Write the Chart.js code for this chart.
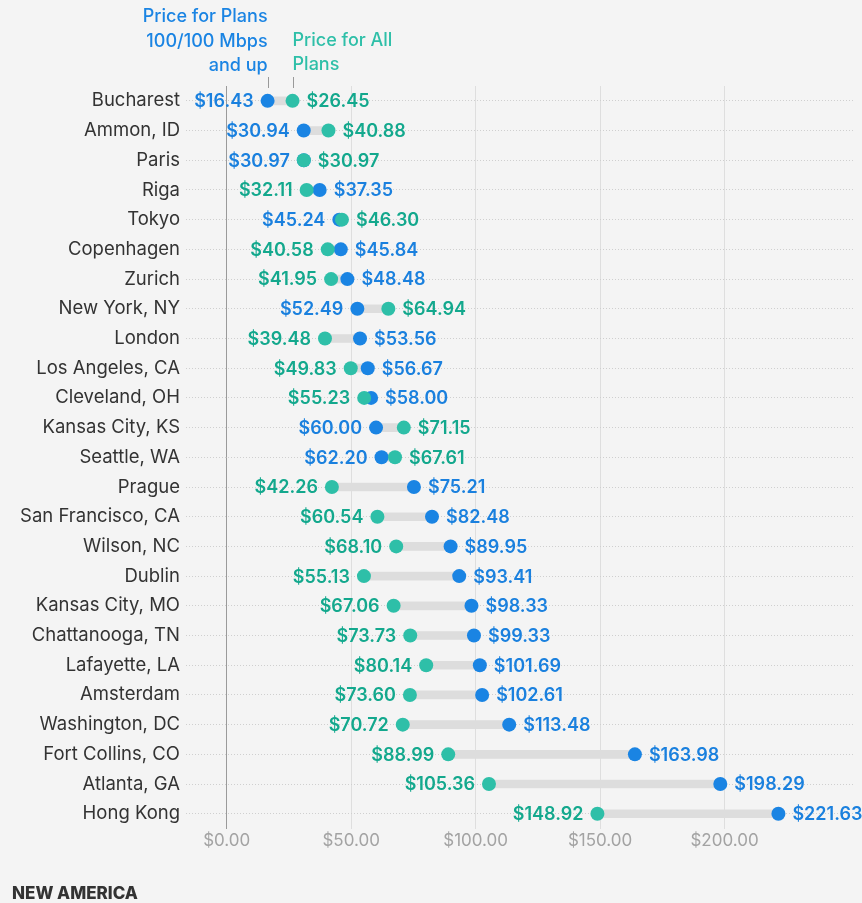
<!DOCTYPE html>
<html>
<head>
<meta charset="utf-8">
<script src="https://cdn.jsdelivr.net/npm/chart.js@4"></script>
<style>
  body { margin: 0; background: #f4f4f4; }
  #wrap { position: relative; width: 862px; height: 903px; }
  #brand { position: absolute; left: 12px; top: 883px; font: 800 17px Inter, sans-serif; color: #333; }
</style>
</head>
<body>
<div id="wrap">
  <canvas id="chartJS"></canvas>
  <div id="brand">NEW AMERICA</div>
</div>
<script>
// cities, top to bottom
const cidades = ['Bucharest', 'Ammon, ID', 'Paris', 'Riga', 'Tokyo', 'Copenhagen', 'Zurich',
    'New York, NY', 'London', 'Los Angeles, CA', 'Cleveland, OH', 'Kansas City, KS',
    'Seattle, WA', 'Prague', 'San Francisco, CA', 'Wilson, NC', 'Dublin', 'Kansas City, MO',
    'Chattanooga, TN', 'Lafayette, LA', 'Amsterdam', 'Washington, DC', 'Fort Collins, CO',
    'Atlanta, GA', 'Hong Kong']

// price for plans 100/100 Mbps and up
const preco100 = [16.43, 30.94, 30.97, 37.35, 45.24, 45.84, 48.48, 52.49, 53.56, 56.67, 58.00,
    60.00, 62.20, 75.21, 82.48, 89.95, 93.41, 98.33, 99.33, 101.69, 102.61, 113.48, 163.98,
    198.29, 221.63]

// price for all plans
const precoTodos = [26.45, 40.88, 30.97, 32.11, 46.30, 40.58, 41.95, 64.94, 39.48, 49.83, 55.23,
    71.15, 67.61, 42.26, 60.54, 68.10, 55.13, 67.06, 73.73, 80.14, 73.60, 70.72, 88.99,
    105.36, 148.92]

const ticksX = [0, 50, 100, 150, 200]

const AZUL = '#1a84e3'
const AZUL_TXT = '#1a80de'
const VERDE = '#2ebfa8'
const VERDE_TXT = '#13a88d'

const faixas = cidades.map((c, i) => [Math.min(preco100[i], precoTodos[i]), Math.max(preco100[i], precoTodos[i])])

const rotulos = {
    id: 'rotulos',
    afterDatasetsDraw(chart) {
        const ctx = chart.ctx
        const mAzul = chart.getDatasetMeta(1)
        const mVerde = chart.getDatasetMeta(2)
        ctx.save()
        ctx.font = '600 18px Inter'
        ctx.textBaseline = 'middle'
        cidades.forEach((c, i) => {
            const pa = mAzul.data[i]
            const pv = mVerde.data[i]
            const azulEsq = preco100[i] <= precoTodos[i]
            ctx.fillStyle = AZUL_TXT
            ctx.textAlign = azulEsq ? 'right' : 'left'
            ctx.fillText('$' + preco100[i].toFixed(2), azulEsq ? pa.x - 14 : pa.x + 14, pa.y + 1)
            ctx.fillStyle = VERDE_TXT
            ctx.textAlign = azulEsq ? 'left' : 'right'
            ctx.fillText('$' + precoTodos[i].toFixed(2), azulEsq ? pv.x + 14 : pv.x - 14, pv.y + 1)
        })

        // header legend over the first row
        const xa = mAzul.data[0].x
        const xv = mVerde.data[0].x
        ctx.font = '500 18px Inter'
        ctx.textBaseline = 'middle'
        ctx.fillStyle = AZUL
        ctx.textAlign = 'right'
        ctx.fillText('Price for Plans', xa, 17)
        ctx.fillText('100/100 Mbps', xa, 42)
        ctx.fillText('and up', xa, 66)
        ctx.fillStyle = VERDE
        ctx.textAlign = 'left'
        ctx.fillText('Price for All', xv, 41)
        ctx.fillText('Plans', xv, 65)
        ctx.strokeStyle = '#999'
        ctx.lineWidth = 1
        ctx.beginPath()
        ctx.moveTo(Math.round(xa) + 0.5, 77)
        ctx.lineTo(Math.round(xa) + 0.5, 88)
        ctx.moveTo(Math.round(xv) + 0.5, 77)
        ctx.lineTo(Math.round(xv) + 0.5, 88)
        ctx.stroke()
        ctx.restore()
    }
}

const meuchart = document.getElementById('chartJS')

const data = {
    labels: cidades,
    datasets: [
        {
            type: 'bar',
            data: faixas,
            backgroundColor: '#dddddd',
            barThickness: 8,
            borderSkipped: false,
            order: 3,
        },
        {
            type: 'line',
            data: preco100,
            showLine: false,
            pointRadius: 7,
            pointHoverRadius: 7,
            pointBackgroundColor: AZUL,
            pointBorderWidth: 0,
            order: 2,
        },
        {
            type: 'line',
            data: precoTodos,
            showLine: false,
            pointRadius: 7,
            pointHoverRadius: 7,
            pointBackgroundColor: VERDE,
            pointBorderWidth: 0,
            order: 1,
        },
    ]
}

const config = {
    type: 'bar',
    data: data,
    options: {
        indexAxis: 'y',
        responsive: true,
        maintainAspectRatio: false,
        animation: false,
        layout: { padding: { top: 86, bottom: 50, left: 0, right: 0 } },
        plugins: {
            legend: { display: false },
            tooltip: { enabled: false },
        },
        scales: {
            x: {
                type: 'linear',
                min: -16.35,
                max: 252.4,
                afterBuildTicks: (scale) => { scale.ticks = ticksX.map(v => ({ value: v })) },
                grid: {
                    color: (c) => (c.tick && c.tick.value === 0) ? '#9a9a9a' : '#dedede',
                    drawTicks: false,
                },
                border: { display: false },
                ticks: {
                    padding: 2,
                    color: '#a3a3a3',
                    font: { size: 17, family: 'Inter' },
                    callback: (v) => '$' + Number(v).toFixed(2),
                },
            },
            y: {
                offset: true,
                afterFit: (scale) => { scale.width = 186 },
                grid: {
                    offset: false,
                    color: '#cfcfcf',
                    drawTicks: false,
                },
                border: { display: false, dash: [1, 2] },
                ticks: {
                    padding: 6,
                    color: '#333',
                    font: { size: 18.5, family: 'Inter' },
                },
            },
        },
    },
    plugins: [rotulos],
}

const chart = new Chart(meuchart, config)
</script>
</body>
</html>
